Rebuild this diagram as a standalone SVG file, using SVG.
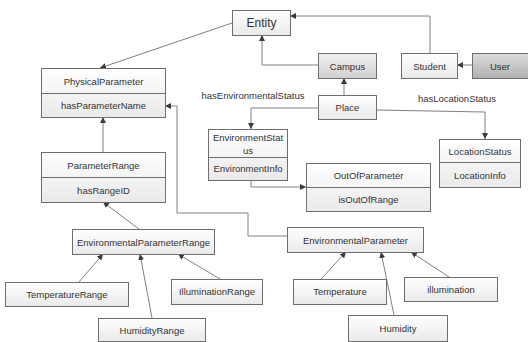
<svg xmlns="http://www.w3.org/2000/svg" width="528" height="342" viewBox="0 0 528 342">
<defs>
<linearGradient id="gw" x1="0" y1="0" x2="0" y2="1"><stop offset="0" stop-color="#ffffff"/><stop offset="1" stop-color="#e9e9e9"/></linearGradient>
<linearGradient id="gg" x1="0" y1="0" x2="0" y2="1"><stop offset="0" stop-color="#f2f2f2"/><stop offset="1" stop-color="#cfcfcf"/></linearGradient>
<linearGradient id="gd" x1="0" y1="0" x2="0" y2="1"><stop offset="0" stop-color="#dcdcdc"/><stop offset="1" stop-color="#b0b0b0"/></linearGradient>
<marker id="ar" viewBox="0 0 10 10" refX="10" refY="5" markerWidth="6" markerHeight="6" markerUnits="userSpaceOnUse" orient="auto"><path d="M0,0 L10,5 L0,10 z" fill="#3a3a3a"/></marker>
</defs>
<style>
.b{fill:url(#gw);stroke:#6e6e6e;stroke-width:1}
.bg{fill:url(#gg);stroke:#6e6e6e;stroke-width:1}
.bd{fill:url(#gd);stroke:#6e6e6e;stroke-width:1}
.d{stroke:#6e6e6e;stroke-width:1}
text{font-family:"Liberation Sans",Arial,sans-serif;font-size:9.5px;fill:#333;text-anchor:middle}
.big{font-size:12px}
.c{fill:none;stroke:#808080;stroke-width:1;marker-end:url(#ar)}
</style>
<rect width="528" height="342" fill="#fff"/>
<g id="connectors">
<path class="c" d="M232,23 L100,68"/>
<path class="c" d="M103,152 L103,117"/>
<path class="c" d="M139,229 L103,202"/>
<path class="c" d="M79,282 L103,254"/>
<path class="c" d="M152,318 L140,254"/>
<path class="c" d="M220,279 L178,254"/>
<path class="c" d="M318,65 H262 V35"/>
<path class="c" d="M430,53 V16 H290"/>
<path class="c" d="M472,65 H457"/>
<path class="c" d="M344,95 V78"/>
<path class="c" d="M318,108 H251 V129"/>
<path class="c" d="M251,180 V187 H306"/>
<path class="c" d="M376,110 L485,112 V139"/>
<path class="c" d="M287,236 H248 V213 H177 V106 H165"/>
<path class="c" d="M321,279 L346,252"/>
<path class="c" d="M394,315 L381,252"/>
<path class="c" d="M449,277 L411,252"/>
</g>
<g id="labels">
<text x="253" y="99">hasEnvironmentalStatus</text>
<text x="457" y="102">hasLocationStatus</text>
</g>
<g id="Entity"><rect class="b" x="232.5" y="10.5" width="58" height="25"/><text class="big" x="261.5" y="27">Entity</text></g>
<g id="PhysicalParameter"><rect class="b" x="41.5" y="68.5" width="124" height="49"/><line class="d" x1="41.5" y1="93.5" x2="165.5" y2="93.5"/><text x="103.5" y="84.5">PhysicalParameter</text><text x="103.5" y="109">hasParameterName</text></g>
<g id="ParameterRange"><rect class="b" x="41.5" y="152.5" width="124" height="50"/><line class="d" x1="41.5" y1="177.5" x2="165.5" y2="177.5"/><text x="103.5" y="168.5">ParameterRange</text><text x="103.5" y="193.5">hasRangeID</text></g>
<g id="EnvironmentalParameterRange"><rect class="b" x="72.5" y="229.5" width="142" height="25"/><text x="143.5" y="245.5">EnvironmentalParameterRange</text></g>
<g id="TemperatureRange"><rect class="b" x="5.5" y="282.5" width="123" height="24"/><text x="67" y="298">TemperatureRange</text></g>
<g id="HumidityRange"><rect class="b" x="98.5" y="318.5" width="107" height="23"/><text x="152" y="334">HumidityRange</text></g>
<g id="IlluminationRange"><rect class="b" x="171.5" y="279.5" width="91" height="25"/><text x="217" y="295">IlluminationRange</text></g>
<g id="Campus"><rect class="bg" x="318.5" y="53.5" width="58" height="25"/><text x="347.5" y="69.5">Campus</text></g>
<g id="Student"><rect class="b" x="401.5" y="53.5" width="56" height="25"/><text x="429.5" y="69.5">Student</text></g>
<g id="User"><rect class="bd" x="472.5" y="53.5" width="56" height="25"/><text x="500" y="69.5">User</text></g>
<g id="Place"><rect class="b" x="318.5" y="95.5" width="58" height="24"/><text x="347.5" y="111">Place</text></g>
<g id="EnvironmentStatus"><rect class="b" x="208.5" y="129.5" width="79" height="51"/><line class="d" x1="208.5" y1="157.5" x2="287.5" y2="157.5"/><text x="248" y="140.5">EnvironmentStat</text><text x="248" y="154">us</text><text x="248" y="171.5">EnvironmentInfo</text></g>
<g id="OutOfParameter"><rect class="b" x="306.5" y="163.5" width="124" height="48"/><line class="d" x1="306.5" y1="187.5" x2="430.5" y2="187.5"/><text x="368.5" y="178.5">OutOfParameter</text><text x="368.5" y="202.5">isOutOfRange</text></g>
<g id="LocationStatus"><rect class="b" x="439.5" y="139.5" width="81" height="48"/><line class="d" x1="439.5" y1="162.5" x2="520.5" y2="162.5"/><text x="480" y="154.5">LocationStatus</text><text x="480" y="178.5">LocationInfo</text></g>
<g id="EnvironmentalParameter"><rect class="b" x="287.5" y="227.5" width="136" height="25"/><text x="355.5" y="243.5">EnvironmentalParameter</text></g>
<g id="Temperature"><rect class="b" x="293.5" y="279.5" width="93" height="25"/><text x="340" y="295">Temperature</text></g>
<g id="Humidity"><rect class="b" x="348.5" y="315.5" width="99" height="26"/><text x="398" y="331.5">Humidity</text></g>
<g id="illumination"><rect class="b" x="404.5" y="277.5" width="93" height="24"/><text x="451" y="293">illumination</text></g>
</svg>
